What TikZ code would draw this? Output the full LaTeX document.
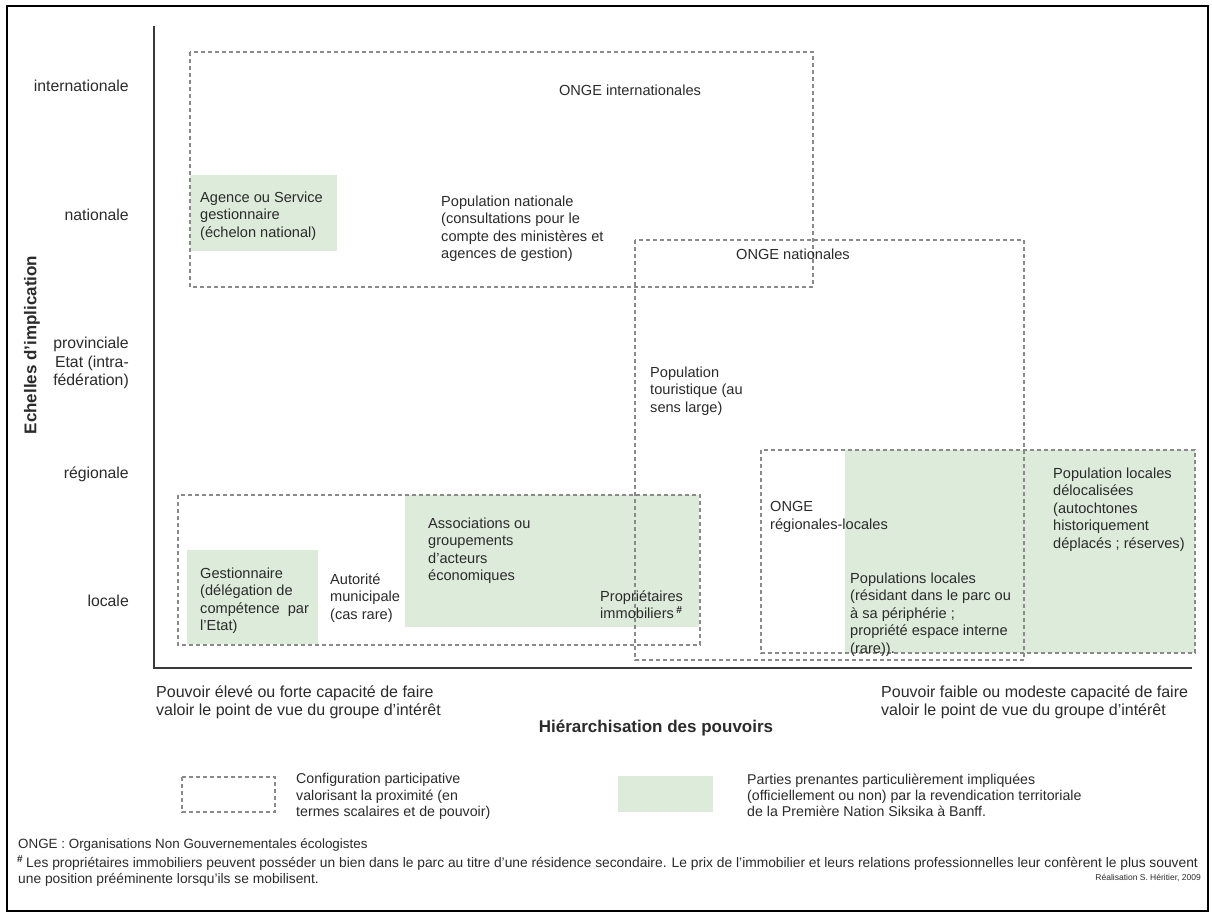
\documentclass[tikz,border=0pt]{standalone}
\usepackage{fontspec}
\setmainfont{Liberation Sans}
\definecolor{txt}{HTML}{2B2B2B}
\definecolor{grn}{HTML}{DDEBDB}
\definecolor{dsh}{HTML}{8A8A8A}
\definecolor{axiscol}{HTML}{3A3A3A}
\begin{document}
\begin{tikzpicture}[x=1pt,y=-1pt,
  every node/.style={inner sep=0pt, text=txt},
  body/.style={font=\fontsize{14.6}{17.5}\selectfont, align=left, anchor=north west},
  bodyc/.style={font=\fontsize{14.6}{17.5}\selectfont, anchor=base},
  ylab/.style={font=\fontsize{15.8}{18.5}\selectfont, anchor=base east},
  ylabm/.style={font=\fontsize{15.8}{18.5}\selectfont, align=right, anchor=north east},
  bigtxt/.style={font=\fontsize{16}{17.5}\selectfont, align=left, anchor=north west},
  axtitle/.style={font=\bfseries\fontsize{17}{20}\selectfont},
  legtxt/.style={font=\fontsize{14.2}{16.3}\selectfont, align=left, anchor=north west},
  foot/.style={font=\fontsize{13.8}{16}\selectfont, anchor=base west},
  dbox/.style={draw=dsh, line width=1.2pt, dash pattern=on 4pt off 3pt},
  gbox/.style={fill=grn},
  axline/.style={draw=axiscol, line width=2.4pt}
]
\useasboundingbox (0,0) rectangle (1212,915);
\fill[white] (0,0) rectangle (1212,915);
% frame
\draw[black, line width=2pt] (7,6) rectangle (1208,911);

% green fills
\fill[gbox] (190,175) rectangle (337,251);
\fill[gbox] (187,550) rectangle (318,644);
\fill[gbox] (405,495) rectangle (699,627);
\fill[gbox] (845,450) rectangle (1195,653);

% dashed configuration boxes
\draw[dbox] (190,52) rectangle (813,287);
\draw[dbox] (635,240) rectangle (1024,660);
\draw[dbox] (178,495) rectangle (700,645);
\draw[dbox] (761,450) rectangle (1195,653);

% axes
\coordinate (otop) at (154,26);
\coordinate (orig) at (154,668);
\coordinate (xend) at (1192,668);
\draw[axline] (otop) -- (orig) -- (xend);

% y labels
\node[ylab] (yint) at (129,92) {internationale};
\node[ylab] (ynat) at (129,220) {nationale};
\node[ylabm] (yprov) at (129,337) {provinciale\\Etat (intra-\\fédération)};
\node[ylab] (yreg) at (129,478) {régionale};
\node[ylab] (yloc) at (129,606) {locale};
\node[axtitle, rotate=90] (ytitle) at (32,345) {Echelles d'implication};

% content
\node[bodyc] (ongeint) at (630,96) {ONGE internationales};
\node[body] (popnat) at (441,195.5) {Population nationale\\(consultations pour le\\compte des ministères et\\agences de gestion)};
\node[body] (agence) at (200,191.5) {Agence ou Service\\gestionnaire\\(échelon national)};
\node[bodyc] (ongenat) at (793,259) {ONGE nationales};
\node[body] (poptour) at (650,366.5) {Population\\touristique (au\\sens large)};
\node[body] (ongereg) at (770,501.5) {ONGE\\régionales-locales};
\node[body] (poploc) at (850,572.5) {Populations locales\\(résidant dans le parc ou\\à sa périphérie ;\\propriété espace interne\\(rare)).};
\node[body] (popdel) at (1053,467.5) {Population locales\\délocalisées\\(autochtones\\historiquement\\déplacés ; réserves)};
\node[body] (gest) at (200,567.5) {Gestionnaire\\(délégation de\\compétence\ \ par\\l'Etat)};
\node[body] (autor) at (330,573.5) {Autorité\\municipale\\(cas rare)};
\node[body] (assoc) at (428,517.5) {Associations ou\\groupements\\d'acteurs\\économiques};
\node[body] (propr) at (600,590.5) {Propriétaires\\immobiliers\,\textsuperscript{\textbf{\#}}};

% x axis texts
\node[bigtxt] (pfort) at (156,686) {Pouvoir élevé ou forte capacité de faire\\valoir le point de vue du groupe d'intérêt};
\node[bigtxt] (pfaib) at (881,686) {Pouvoir faible ou modeste capacité de faire\\valoir le point de vue du groupe d'intérêt};
\node[axtitle] (xtitle) at (656,728) {Hiérarchisation des pouvoirs};

% legend
\draw[dbox] (182,777) rectangle (275,812);
\node[legtxt] (legd) at (296,773.5) {Configuration participative\\valorisant la proximité (en\\termes scalaires et de pouvoir)};
\fill[gbox] (618,776) rectangle (713,812);
\node[legtxt] (legg) at (747,773.5) {Parties prenantes particulièrement impliquées\\(officiellement ou non) par la revendication territoriale\\de la Première Nation Siksika à Banff.};

% footnotes
\node[font=\fontsize{13.4}{16}\selectfont, anchor=base west] (fonge) at (18,848) {ONGE : Organisations Non Gouvernementales écologistes};
\node[font=\bfseries\fontsize{10}{12}\selectfont, anchor=base west] (fhash) at (17,862) {\#};
\node[foot] (fn1) at (26,867) {Les propriétaires immobiliers peuvent posséder un bien dans le parc au titre d'une résidence secondaire. Le prix de l'immobilier et leurs relations professionnelles leur confèrent le plus souvent};
\node[foot] (fn2) at (18,883) {une position prééminente lorsqu'ils se mobilisent.};
\node[font=\fontsize{8.5}{10}\selectfont, anchor=base east] (credit) at (1201,880) {Réalisation S. Héritier, 2009};
\end{tikzpicture}
\end{document}
